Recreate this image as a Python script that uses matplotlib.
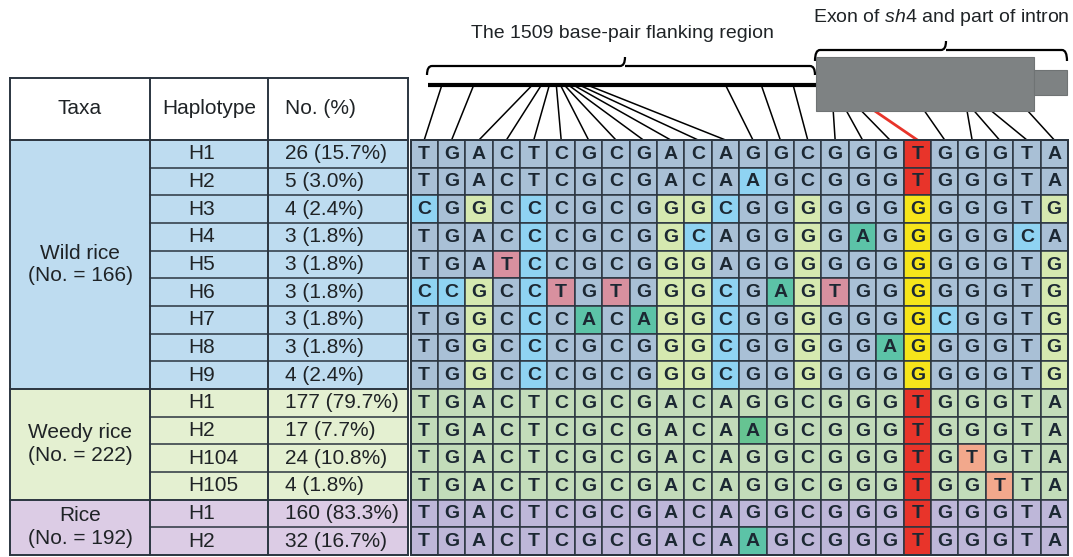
import matplotlib
matplotlib.use("Agg")
import matplotlib.pyplot as plt
from matplotlib.patches import Rectangle, PathPatch
from matplotlib.path import Path

# ------------------------------------------------------------------ data
taxa = ["Wild rice\n(No. = 166)", "Weedy rice\n(No. = 222)", "Rice\n(No. = 192)"]
group_sizes = [9, 4, 2]
header_labels = ["Taxa", "Haplotype", "No. (%)"]
haplotypes = ["H1", "H2", "H3", "H4", "H5", "H6", "H7", "H8", "H9",
              "H1", "H2", "H104", "H105",
              "H1", "H2"]
counts = ["26 (15.7%)", "5 (3.0%)", "4 (2.4%)", "3 (1.8%)", "3 (1.8%)",
          "3 (1.8%)", "3 (1.8%)", "3 (1.8%)", "4 (2.4%)",
          "177 (79.7%)", "17 (7.7%)", "24 (10.8%)", "4 (1.8%)",
          "160 (83.3%)", "32 (16.7%)"]
sequences = [
    "TGACTCGCGACAGGCGGGTGGGTA",
    "TGACTCGCGACAAGCGGGTGGGTA",
    "CGGCCCGCGGGCGGGGGGGGGGTG",
    "TGACCCGCGGCAGGGGAGGGGGCA",
    "TGATCCGCGGGAGGGGGGGGGGTG",
    "CCGCCTGTGGGCGAGTGGGGGGTG",
    "TGGCCCACAGGCGGGGGGGCGGTG",
    "TGGCCCGCGGGCGGGGGAGGGGTG",
    "TGGCCCGCGGGCGGGGGGGGGGTG",
    "TGACTCGCGACAGGCGGGTGGGTA",
    "TGACTCGCGACAAGCGGGTGGGTA",
    "TGACTCGCGACAGGCGGGTGTGTA",
    "TGACTCGCGACAGGCGGGTGGTTA",
    "TGACTCGCGACAGGCGGGTGGGTA",
    "TGACTCGCGACAAGCGGGTGGGTA",
]
# variant class of each cell ('.' = same as H1)
variant_marks = [
    "..................r.....",
    "............c.....r.....",
    "c.y.c....yyc..y...Y....y",
    "....c....yc...y.t.Y...c.",
    "...pc....yy...y...Y....y",
    "ccy.cp.p.yyc.typ..Y....y",
    "..y.c.t.tyyc..y...Yc...y",
    "..y.c....yyc..y..tY....y",
    "..y.c....yyc..y...Y....y",
    "..................r.....",
    "............g.....r.....",
    "..................r.o...",
    "..................r..o..",
    "..................r.....",
    "............t.....r.....",
]
flank_length_bp = 1509
flank_snp_bp = [54, 178, 406, 441, 472, 499, 515, 530, 546, 565, 588, 619, 1157, 1296, 1420]
exon_snp_frac = [0.079, 0.140, 0.209, 0.270, 0.498, 0.693, 0.726, 0.805, 0.972]
flank_title = "The 1509 base-pair flanking region"
exon_title = r"Exon of $\mathit{sh4}$ and part of intron"

# ------------------------------------------------------------------ style
plt.rcParams["font.family"] = ["Liberation Sans", "DejaVu Sans"]
plt.rcParams["mathtext.fontset"] = "custom"
plt.rcParams["mathtext.rm"] = "Liberation Sans"
plt.rcParams["mathtext.it"] = "Liberation Sans:italic"

group_bg = ["#bedcf0", "#e4f0d1", "#dccce5"]
cell_bg = ["#a9c0d6", "#c3dcba", "#beb7d9"]
mark_colors = {"c": "#8fd3f2", "y": "#d6e9b0", "p": "#d8909f", "t": "#5cc3a7",
               "g": "#66c492", "Y": "#f6e51b", "r": "#e8342a", "o": "#f2a88c"}
line_col = "#2b3540"
text_col = "#1f2326"
gray_box = "#7e8283"

W, H = 1073, 557
tab_x = [10, 150, 268, 408]
head_top = 78
grid_top = 140
grid_bottom = 555
n_rows = len(sequences)
n_cols = len(sequences[0])
row_h = (grid_bottom - grid_top) / n_rows
grid_x0, grid_x1 = 410.5, 1068
col_w = (grid_x1 - grid_x0) / n_cols

fig = plt.figure(figsize=(W / 100, H / 100), dpi=100)
ax = fig.add_axes([0, 0, 1, 1])
ax.set_xlim(0, W)
ax.set_ylim(H, 0)
ax.axis("off")

# ------------------------------------------------------------------ left table
for i, lab in enumerate(header_labels):
    if i < 2:
        ax.text((tab_x[i] + tab_x[i + 1]) / 2, (head_top + grid_top) / 2, lab,
                ha="center", va="center", fontsize=15, color=text_col)
    else:
        ax.text(tab_x[i] + 17, (head_top + grid_top) / 2, lab,
                ha="left", va="center", fontsize=15, color=text_col)

row0 = 0
group_of_row = []
for g, size in enumerate(group_sizes):
    y0 = grid_top + row0 * row_h
    y1 = grid_top + (row0 + size) * row_h
    ax.add_patch(Rectangle((tab_x[0], y0), tab_x[3] - tab_x[0], y1 - y0,
                           fc=group_bg[g], ec="none", zorder=1))
    ax.text((tab_x[0] + tab_x[1]) / 2, (y0 + y1) / 2, taxa[g], ha="center",
            va="center", fontsize=15, color=text_col, linespacing=1.25, zorder=3)
    for r in range(row0 + 1, row0 + size):
        yy = grid_top + r * row_h
        ax.plot([tab_x[1], tab_x[3]], [yy, yy], color=line_col, lw=1.1, zorder=2)
    ax.plot([tab_x[0], tab_x[3]], [y1, y1], color=line_col, lw=1.4, zorder=2)
    group_of_row += [g] * size
    row0 += size

for r in range(n_rows):
    yc = grid_top + (r + 0.5) * row_h
    ax.text(tab_x[1] + 38, yc, haplotypes[r], ha="left", va="center",
            fontsize=15, color=text_col, zorder=3)
    ax.text(tab_x[2] + 17, yc, counts[r], ha="left", va="center",
            fontsize=15, color=text_col, zorder=3)

for yy in (head_top, grid_top):
    ax.plot([tab_x[0], tab_x[3]], [yy, yy], color=line_col, lw=1.4, zorder=2)
for xx in tab_x:
    ax.plot([xx, xx], [head_top, grid_bottom], color=line_col, lw=1.4, zorder=2)

# ------------------------------------------------------------------ sequence grid
for r, seq in enumerate(sequences):
    g = group_of_row[r]
    for c, base in enumerate(seq):
        m = variant_marks[r][c]
        fc = mark_colors.get(m, cell_bg[g])
        x = grid_x0 + c * col_w
        y = grid_top + r * row_h
        ax.add_patch(Rectangle((x, y), col_w, row_h, fc=fc, ec=line_col,
                               lw=1.1, zorder=4))
        ax.text(x + col_w / 2, y + row_h / 2 + 0.5, base, ha="center", va="center",
                fontsize=14, fontweight="bold", color="#1c2833", zorder=5)
ax.add_patch(Rectangle((grid_x0, grid_top), grid_x1 - grid_x0, grid_bottom - grid_top,
                       fc="none", ec=line_col, lw=1.4, zorder=6))

# ------------------------------------------------------------------ gene diagram
flank_x0, flank_x1 = 428, 816
chrom_y = 85
exon_x0, exon_x1 = 816, 1034
exon_y0, exon_y1 = 57, 111
intron_x1 = 1067
intron_y0, intron_y1 = 70, 95


def bracket(x0, x1, y, drop, rise, xm=None):
    if xm is None:
        xm = (x0 + x1) / 2
    k = 5
    verts = [(x0, y + drop), (x0, y), (x0 + k, y),
             (xm - k, y), (xm, y), (xm, y - rise),
             (xm, y), (xm + k, y),
             (x1 - k, y), (x1, y), (x1, y + drop)]
    codes = [Path.MOVETO, Path.CURVE3, Path.CURVE3,
             Path.LINETO, Path.CURVE3, Path.CURVE3,
             Path.MOVETO, Path.LINETO,
             Path.LINETO, Path.CURVE3, Path.CURVE3]
    ax.add_patch(PathPatch(Path(verts, codes), fc="none", ec="black",
                           lw=1.6, capstyle="butt", zorder=3))


bracket(flank_x0 - 1, flank_x1 - 1, 66, 9, 9, xm=625)
bracket(flank_x1 - 1, intron_x1, 50, 11, 9, xm=946)

ax.plot([flank_x0, flank_x1], [chrom_y, chrom_y], color="black", lw=3.0,
        solid_capstyle="butt", zorder=3)
ax.add_patch(Rectangle((exon_x0, exon_y0), exon_x1 - exon_x0, exon_y1 - exon_y0,
                       fc=gray_box, ec="#6f7374", lw=0.8, zorder=3))
ax.add_patch(Rectangle((exon_x1, intron_y0), intron_x1 - exon_x1, intron_y1 - intron_y0,
                       fc=gray_box, ec="#6f7374", lw=0.8, zorder=3))

n_flank = len(flank_snp_bp)
for i, bp in enumerate(flank_snp_bp):
    xt = flank_x0 + (flank_x1 - flank_x0) * bp / flank_length_bp
    xb = grid_x0 + (i + 0.5) * col_w
    ax.plot([xt, xb], [chrom_y, grid_top], color="black", lw=1.1, zorder=2)
for j, fr in enumerate(exon_snp_frac):
    xt = exon_x0 + (exon_x1 - exon_x0) * fr
    col = n_flank + j
    xb = grid_x0 + (col + 0.5) * col_w
    is_red = any(variant_marks[r][col] in "rY" for r in range(n_rows))
    ax.plot([xt, xb], [exon_y1, grid_top], color="#e8342a" if is_red else "black",
            lw=2.0 if is_red else 1.1, zorder=2)

ax.text(622, 33, flank_title, ha="center", va="center", fontsize=14, color=text_col)
ax.text(1070, 17, exon_title, ha="right", va="center", fontsize=14, color=text_col)

fig.savefig("out.png", dpi=100, facecolor="white")
